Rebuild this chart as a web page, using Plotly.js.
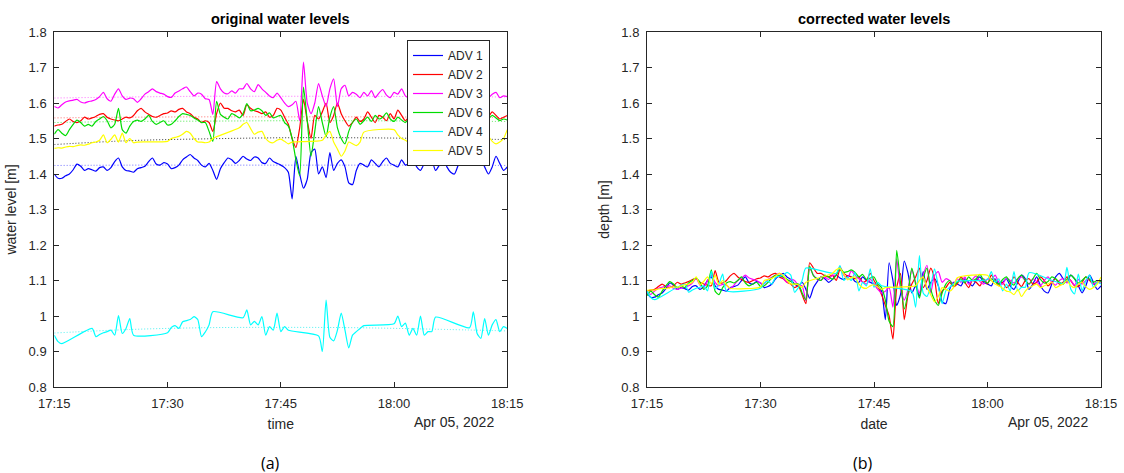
<!DOCTYPE html>
<html>
<head>
<meta charset="utf-8">
<script src="https://cdn.plot.ly/plotly-3.0.1.min.js"></script>
<style>html,body{margin:0;padding:0;background:#fff;}#chart{width:1124px;height:473px;}</style>
</head>
<body>
<div id="chart"></div>
<script>
// ---------- DATA (30-second samples, 17:15:00 - 18:15:00, 5 April 2022) ----------
const DATE = '2022-04-05';
const START_TIME = '17:15:00';
const SAMPLE_SECONDS = 30;
const SAMPLE_COUNT = 121;

const TICK_VALUES = ['2022-04-05 17:15', '2022-04-05 17:30', '2022-04-05 17:45', '2022-04-05 18:00', '2022-04-05 18:15'];
const TICK_LABELS = ['17:15', '17:30', '17:45', '18:00', '18:15'];
const DATE_LABEL = 'Apr 05, 2022';

const SERIES_NAMES = ['ADV 1', 'ADV 2', 'ADV 3', 'ADV 6', 'ADV 4', 'ADV 5'];

// original water levels [m]
const adv1_original = [
  1.400,1.388,1.388,1.395,1.400,1.412,1.428,1.422,1.410,1.415,
  1.412,1.408,1.418,1.420,1.410,1.418,1.435,1.445,1.420,1.410,
  1.408,1.405,1.415,1.418,1.422,1.435,1.445,1.428,1.425,1.432,
  1.428,1.415,1.418,1.425,1.440,1.448,1.455,1.445,1.438,1.425,
  1.420,1.430,1.410,1.385,1.415,1.432,1.445,1.440,1.430,1.438,
  1.450,1.442,1.438,1.448,1.445,1.432,1.430,1.445,1.435,1.430,
  1.425,1.418,1.405,1.330,1.450,1.400,1.360,1.385,1.460,1.470,
  1.400,1.420,1.390,1.460,1.410,1.430,1.440,1.420,1.375,1.370,
  1.410,1.430,1.425,1.420,1.440,1.430,1.420,1.435,1.445,1.430,
  1.425,1.420,1.440,1.425,1.430,1.440,1.420,1.410,1.430,1.450,
  1.440,1.410,1.425,1.445,1.420,1.405,1.400,1.425,1.445,1.455,
  1.440,1.430,1.450,1.440,1.420,1.400,1.420,1.450,1.430,1.410,
  1.420];
const adv2_original = [
  1.535,1.538,1.540,1.548,1.555,1.548,1.545,1.550,1.560,1.555,
  1.558,1.562,1.568,1.570,1.560,1.555,1.552,1.550,1.555,1.560,
  1.558,1.565,1.578,1.585,1.575,1.568,1.562,1.560,1.565,1.570,
  1.572,1.578,1.575,1.582,1.585,1.575,1.570,1.560,1.555,1.545,
  1.550,1.545,1.520,1.570,1.600,1.585,1.585,1.578,1.575,1.580,
  1.565,1.595,1.585,1.578,1.575,1.570,1.575,1.560,1.565,1.585,
  1.580,1.560,1.540,1.500,1.475,1.530,1.610,1.550,1.500,1.565,
  1.555,1.575,1.600,1.545,1.565,1.600,1.570,1.550,1.535,1.545,
  1.560,1.548,1.555,1.575,1.560,1.545,1.565,1.560,1.550,1.570,
  1.555,1.580,1.565,1.550,1.560,1.545,1.555,1.575,1.560,1.548,
  1.565,1.570,1.555,1.560,1.575,1.565,1.550,1.560,1.570,1.555,
  1.560,1.575,1.565,1.550,1.548,1.560,1.575,1.565,1.555,1.560,
  1.565];
const adv3_original = [
  1.590,1.586,1.595,1.603,1.606,1.608,1.610,1.603,1.600,1.604,
  1.606,1.610,1.618,1.630,1.612,1.605,1.625,1.640,1.620,1.610,
  1.614,1.612,1.602,1.612,1.625,1.632,1.640,1.632,1.628,1.625,
  1.618,1.616,1.628,1.634,1.640,1.645,1.632,1.620,1.628,1.625,
  1.612,1.610,1.568,1.660,1.640,1.628,1.626,1.634,1.628,1.640,
  1.640,1.655,1.640,1.632,1.652,1.640,1.630,1.620,1.615,1.628,
  1.615,1.600,1.590,1.595,1.605,1.550,1.715,1.600,1.570,1.600,
  1.655,1.620,1.590,1.640,1.668,1.590,1.640,1.650,1.620,1.630,
  1.625,1.615,1.630,1.620,1.635,1.615,1.628,1.638,1.622,1.615,
  1.630,1.625,1.640,1.620,1.615,1.632,1.625,1.618,1.628,1.635,
  1.625,1.615,1.630,1.622,1.610,1.625,1.635,1.620,1.612,1.625,
  1.630,1.618,1.625,1.612,1.628,1.615,1.625,1.630,1.615,1.620,
  1.618];
const adv6_original = [
  1.512,1.525,1.515,1.508,1.525,1.540,1.552,1.545,1.535,1.540,
  1.535,1.548,1.555,1.562,1.550,1.530,1.540,1.585,1.525,1.515,
  1.535,1.548,1.552,1.548,1.555,1.565,1.548,1.540,1.545,1.550,
  1.538,1.540,1.550,1.562,1.570,1.568,1.565,1.558,1.552,1.545,
  1.545,1.520,1.492,1.605,1.568,1.560,1.555,1.570,1.565,1.558,
  1.570,1.598,1.578,1.580,1.585,1.578,1.565,1.572,1.558,1.562,
  1.565,1.545,1.535,1.500,1.440,1.395,1.645,1.550,1.450,1.520,
  1.590,1.545,1.505,1.560,1.590,1.530,1.500,1.485,1.520,1.545,
  1.555,1.540,1.550,1.560,1.548,1.565,1.555,1.560,1.572,1.555,
  1.548,1.560,1.552,1.545,1.558,1.565,1.550,1.542,1.560,1.570,
  1.555,1.545,1.560,1.575,1.558,1.548,1.552,1.565,1.560,1.550,
  1.545,1.558,1.570,1.560,1.548,1.555,1.565,1.558,1.550,1.555,
  1.552];
const adv4_original = [
  0.946,0.928,0.922,null,null,null,null,null,null,null,
  0.965,0.942,0.948,0.953,0.956,0.960,0.946,1.001,0.951,0.965,
  0.993,0.946,null,null,null,null,null,null,null,null,
  0.953,0.968,0.973,0.965,0.984,0.987,0.990,0.998,0.990,0.942,
  0.955,0.975,1.012,null,null,null,null,null,null,null,
  0.995,1.017,0.975,0.985,0.975,0.998,0.946,0.970,0.960,1.008,
  0.956,0.970,0.960,null,null,null,null,null,null,null,
  0.944,0.900,1.045,0.940,0.930,0.960,1.008,0.960,0.910,0.946,
  0.956,0.965,0.973,null,null,null,null,null,null,null,
  0.978,1.000,0.970,0.980,0.946,0.965,0.946,1.000,0.946,0.956,
  0.956,0.997,null,null,null,null,null,null,null,null,
  0.967,1.012,0.951,0.937,0.993,0.946,0.975,0.990,0.956,0.970,
  0.965];
const adv5_original = [
  1.472,1.474,1.473,1.476,1.478,1.477,1.480,1.482,1.481,1.484,
  1.488,1.490,1.495,1.510,1.488,1.498,1.510,1.490,1.515,1.488,
  1.500,1.488,1.490,null,null,null,null,null,null,null,
  1.492,1.500,1.503,1.506,1.512,1.520,1.515,1.500,1.490,1.490,
  1.488,1.490,1.500,null,null,null,null,null,null,1.530,
  1.540,1.545,1.528,1.512,1.518,1.520,1.500,1.490,1.488,1.495,
  1.498,1.492,1.485,1.490,null,null,null,null,null,null,
  null,1.495,1.510,1.520,1.490,1.470,1.450,1.465,1.490,1.485,
  1.480,1.490,1.518,null,null,null,null,null,null,null,
  1.525,1.510,1.500,1.495,1.488,1.480,1.478,1.470,1.485,1.465,
  1.480,1.490,1.495,1.500,1.490,1.495,1.500,1.505,1.490,1.495,
  1.500,1.510,1.495,1.490,1.500,1.505,1.492,1.485,1.490,1.500,
  1.525];

// trend lines (dotted) sampled every 10 minutes
const TREND_TIMES = ['2022-04-05 17:15','2022-04-05 17:25','2022-04-05 17:35','2022-04-05 17:45','2022-04-05 17:55','2022-04-05 18:05','2022-04-05 18:15'];
const adv1_trend = [1.424,1.425,1.425,1.425,1.425,1.425,1.424];
const adv2_trend = [1.558,1.560,1.561,1.561,1.561,1.560,1.559];
const adv3_trend = [1.614,1.617,1.619,1.619,1.619,1.618,1.617];
const adv6_trend = [1.545,1.548,1.549,1.550,1.550,1.549,1.548];
const adv4_trend = [0.952,0.962,0.967,0.968,0.967,0.963,0.958];
const adv5_trend = [1.483,1.494,1.499,1.502,1.502,1.500,1.497];

// corrected water levels (depth) [m]
const adv1_corrected = [
  1.065,1.053,1.053,1.060,1.065,1.077,1.093,1.087,1.075,1.080,
  1.077,1.073,1.083,1.085,1.075,1.083,1.100,1.110,1.085,1.075,
  1.073,1.070,1.080,1.083,1.087,1.100,1.110,1.093,1.090,1.097,
  1.093,1.080,1.083,1.090,1.105,1.113,1.120,1.110,1.103,1.090,
  1.085,1.095,1.075,1.050,1.080,1.097,1.110,1.105,1.095,1.103,
  1.115,1.107,1.103,1.113,1.110,1.097,1.095,1.110,1.100,1.095,
  1.090,1.083,1.070,0.990,1.150,1.100,1.030,1.060,1.155,1.120,
  1.065,1.085,1.055,1.125,1.075,1.095,1.105,1.085,1.040,1.035,
  1.075,1.095,1.090,1.085,1.105,1.095,1.085,1.100,1.110,1.095,
  1.090,1.085,1.105,1.090,1.095,1.105,1.085,1.075,1.095,1.115,
  1.105,1.075,1.090,1.110,1.085,1.070,1.065,1.090,1.110,1.120,
  1.105,1.095,1.115,1.105,1.085,1.065,1.085,1.115,1.095,1.075,
  1.085];
const adv2_corrected = [
  1.070,1.073,1.075,1.083,1.090,1.083,1.080,1.085,1.095,1.090,
  1.093,1.097,1.103,1.105,1.095,1.090,1.087,1.085,1.128,1.095,
  1.093,1.100,1.113,1.120,1.110,1.103,1.097,1.095,1.100,1.105,
  1.107,1.113,1.110,1.117,1.120,1.110,1.105,1.095,1.090,1.080,
  1.085,1.060,1.035,1.150,1.135,1.120,1.120,1.113,1.110,1.115,
  1.100,1.130,1.120,1.113,1.110,1.105,1.110,1.095,1.100,1.120,
  1.100,1.083,1.060,1.030,1.000,0.935,1.080,1.120,0.990,1.060,
  1.090,1.110,1.135,1.080,1.100,1.135,1.105,1.035,1.070,1.080,
  1.095,1.083,1.090,1.110,1.095,1.080,1.100,1.095,1.085,1.105,
  1.090,1.115,1.100,1.085,1.095,1.080,1.090,1.110,1.095,1.083,
  1.100,1.105,1.090,1.095,1.110,1.100,1.085,1.095,1.105,1.090,
  1.095,1.110,1.100,1.085,1.083,1.095,1.110,1.100,1.090,1.095,
  1.100];
const adv3_corrected = [
  1.065,1.061,1.070,1.078,1.081,1.083,1.085,1.078,1.075,1.079,
  1.081,1.085,1.093,1.105,1.087,1.080,1.100,1.115,1.095,1.085,
  1.089,1.087,1.077,1.087,1.100,1.107,1.115,1.107,1.103,1.100,
  1.093,1.091,1.103,1.109,1.115,1.120,1.107,1.095,1.103,1.100,
  1.087,1.085,1.043,1.135,1.115,1.103,1.101,1.109,1.103,1.115,
  1.115,1.140,1.115,1.107,1.127,1.115,1.105,1.095,1.090,1.103,
  1.090,1.075,1.065,1.070,1.080,1.025,1.160,1.075,1.045,1.075,
  1.130,1.095,1.065,1.115,1.143,1.065,1.115,1.125,1.095,1.105,
  1.100,1.090,1.105,1.095,1.110,1.090,1.103,1.113,1.097,1.090,
  1.105,1.100,1.115,1.095,1.090,1.107,1.100,1.093,1.103,1.110,
  1.100,1.090,1.105,1.097,1.085,1.100,1.110,1.095,1.087,1.100,
  1.105,1.093,1.100,1.087,1.103,1.090,1.100,1.105,1.090,1.095,
  1.093];
const adv6_corrected = [
  1.057,1.070,1.060,1.053,1.070,1.085,1.097,1.090,1.080,1.085,
  1.080,1.093,1.100,1.107,1.095,1.075,1.085,1.130,1.070,1.060,
  1.080,1.093,1.097,1.093,1.100,1.110,1.093,1.085,1.090,1.095,
  1.083,1.085,1.095,1.107,1.115,1.113,1.110,1.103,1.097,1.090,
  1.090,1.065,1.045,1.140,1.113,1.105,1.100,1.115,1.110,1.103,
  1.115,1.135,1.123,1.125,1.130,1.123,1.110,1.117,1.103,1.107,
  1.110,1.090,1.080,1.045,0.985,0.970,1.185,1.095,1.020,1.065,
  1.135,1.090,1.050,1.105,1.135,1.075,1.045,1.030,1.065,1.090,
  1.100,1.085,1.095,1.105,1.093,1.110,1.100,1.105,1.117,1.100,
  1.093,1.105,1.097,1.090,1.103,1.110,1.095,1.087,1.105,1.115,
  1.100,1.090,1.105,1.120,1.103,1.093,1.097,1.110,1.105,1.095,
  1.090,1.103,1.115,1.105,1.093,1.100,1.110,1.103,1.095,1.100,
  1.097];
const adv4_corrected = [
  1.070,1.052,1.046,null,null,null,null,null,null,null,
  1.090,1.067,1.073,1.078,1.081,1.085,1.071,1.126,1.076,1.090,
  1.118,1.071,null,null,null,null,null,null,null,null,
  1.078,1.093,1.098,1.090,1.109,1.112,1.115,1.123,1.115,1.067,
  1.080,1.100,1.135,null,null,null,null,null,null,null,
  1.120,1.142,1.100,1.110,1.100,1.123,1.071,1.095,1.085,1.133,
  1.081,1.095,1.085,null,null,null,null,null,null,null,
  1.069,1.025,1.170,1.065,1.055,1.085,1.133,1.085,1.035,1.071,
  1.081,1.090,1.098,null,null,null,null,null,null,null,
  1.103,1.125,1.095,1.105,1.071,1.090,1.071,1.125,1.071,1.081,
  1.081,1.122,null,null,null,null,null,null,null,null,
  1.092,1.137,1.076,1.062,1.118,1.071,1.100,1.115,1.081,1.095,
  1.090];
const adv5_corrected = [
  1.072,1.074,1.073,1.076,1.078,1.077,1.080,1.082,1.081,1.084,
  1.088,1.090,1.095,1.110,1.088,1.098,1.110,1.090,1.115,1.088,
  1.100,1.088,1.078,null,null,null,null,null,null,null,
  1.082,1.100,1.103,1.106,1.112,1.120,1.115,1.100,1.090,1.090,
  1.088,1.080,1.095,null,null,null,null,null,null,1.120,
  1.130,1.135,1.118,1.102,1.108,1.110,1.090,1.080,1.078,1.085,
  1.088,1.082,1.075,1.080,null,null,null,null,null,null,
  null,1.085,1.100,1.110,1.080,1.060,1.040,1.055,1.080,1.075,
  1.070,1.080,1.108,null,null,null,null,null,null,null,
  1.115,1.100,1.090,1.085,1.078,1.070,1.068,1.060,1.075,1.055,
  1.070,1.080,1.085,1.090,1.080,1.085,1.090,1.095,1.080,1.085,
  1.090,1.100,1.085,1.080,1.090,1.095,1.082,1.075,1.080,1.090,
  1.110];

// ---------- BUILD ----------
function pad(n){ return (n < 10 ? '0' : '') + n; }
function sampleTimes(){
  const parts = START_TIME.split(':').map(Number);
  const base = parts[0]*3600 + parts[1]*60 + parts[2];
  const out = [];
  for (let k = 0; k < SAMPLE_COUNT; k++) {
    const s = base + k*SAMPLE_SECONDS;
    out.push(DATE + ' ' + pad(Math.floor(s/3600)) + ':' + pad(Math.floor(s/60)%60) + ':' + pad(s%60));
  }
  return out;
}
const TIMES = sampleTimes();

const COLORS = ['#0000ff', '#ff0000', '#ff00ff', '#00dd00', '#00ffff', '#ffff00'];
const TREND_COLORS = ['#6a6aff', '#ff6a6a', '#ff6aff', '#4ce64c', '#4cf0f0', '#333333'];
const original = [adv1_original, adv2_original, adv3_original, adv6_original, adv4_original, adv5_original];
const trends = [adv1_trend, adv2_trend, adv3_trend, adv6_trend, adv4_trend, adv5_trend];
const corrected = [adv1_corrected, adv2_corrected, adv3_corrected, adv6_corrected, adv4_corrected, adv5_corrected];

const LINE_W = 1.2;
const traces = [];
trends.forEach((tr, i) => traces.push({
  x: TREND_TIMES, y: tr, type: 'scatter', mode: 'lines', xaxis: 'x', yaxis: 'y',
  line: {color: TREND_COLORS[i], width: 1, dash: '1px,2px', shape: 'spline'},
  showlegend: false, hoverinfo: 'skip'
}));
original.forEach((ys, i) => traces.push({
  x: TIMES, y: ys, type: 'scatter', mode: 'lines', name: SERIES_NAMES[i], xaxis: 'x', yaxis: 'y',
  connectgaps: true, line: {color: COLORS[i], width: LINE_W, shape: 'spline', smoothing: 0.6}, showlegend: true
}));
corrected.forEach((ys, i) => traces.push({
  x: TIMES, y: ys, type: 'scatter', mode: 'lines', name: SERIES_NAMES[i], xaxis: 'x2', yaxis: 'y2',
  connectgaps: true, line: {color: COLORS[i], width: LINE_W, shape: 'spline', smoothing: 0.6}, showlegend: false
}));

const AX = '#262626';
function xAxis(domain, anchor, title){
  return {
    domain: domain, anchor: anchor, type: 'date',
    range: [TICK_VALUES[0], TICK_VALUES[TICK_VALUES.length-1]],
    tickmode: 'array', tickvals: TICK_VALUES, ticktext: TICK_LABELS,
    ticks: 'inside', ticklen: 5, tickcolor: AX, tickwidth: 1,
    showline: true, linecolor: AX, linewidth: 1, mirror: 'ticks',
    showgrid: false, zeroline: false, ticklabelstandoff: 4,
    tickfont: {size: 13, color: AX},
    title: {text: title, font: {size: 14, color: AX}, standoff: 9}
  };
}
function yAxis(domain, anchor, title){
  return {
    domain: domain, anchor: anchor,
    range: [0.8, 1.8], tick0: 0.8, dtick: 0.1,
    ticks: 'inside', ticklen: 5, tickcolor: AX, tickwidth: 1,
    showline: true, linecolor: AX, linewidth: 1, mirror: 'ticks',
    showgrid: false, zeroline: false, ticklabelstandoff: 4,
    tickfont: {size: 13, color: AX},
    title: {text: title, font: {size: 14, color: AX}, standoff: 8}
  };
}

const W = 1124, H = 473;
const yDom = [1 - 387/H, 1 - 32/H];
const x1Dom = [54.3/W, 507.3/W];
const x2Dom = [647/W, 1101/W];

const layout = {
  width: W, height: H,
  margin: {l: 0, r: 0, t: 0, b: 0},
  paper_bgcolor: '#ffffff', plot_bgcolor: '#ffffff',
  font: {family: '"Liberation Sans", Arial, Helvetica, sans-serif', size: 13, color: AX},
  showlegend: true,
  legend: {
    x: 407/W, y: 1 - 40/H, xanchor: 'left', yanchor: 'top',
    bgcolor: '#ffffff', bordercolor: AX, borderwidth: 1,
    font: {size: 12, color: AX}, tracegroupgap: 0
  },
  xaxis: xAxis(x1Dom, 'y', 'time'),
  yaxis: yAxis(yDom, 'x', 'water level [m]'),
  xaxis2: xAxis(x2Dom, 'y2', 'date'),
  yaxis2: yAxis(yDom, 'x2', 'depth [m]'),
  annotations: [
    {text: '<b>original water levels</b>', xref: 'paper', yref: 'paper', x: (x1Dom[0]+x1Dom[1])/2, y: 1 - 19/H,
     xanchor: 'center', yanchor: 'middle', showarrow: false, font: {size: 14.5, color: '#000'}},
    {text: '<b>corrected water levels</b>', xref: 'paper', yref: 'paper', x: (x2Dom[0]+x2Dom[1])/2, y: 1 - 19/H,
     xanchor: 'center', yanchor: 'middle', showarrow: false, font: {size: 14.5, color: '#000'}},
    {text: DATE_LABEL, xref: 'paper', yref: 'paper', x: (507.3-11)/W, y: 1 - 422/H,
     xanchor: 'right', yanchor: 'middle', showarrow: false, font: {size: 14, color: AX}},
    {text: DATE_LABEL, xref: 'paper', yref: 'paper', x: (1101-11)/W, y: 1 - 422/H,
     xanchor: 'right', yanchor: 'middle', showarrow: false, font: {size: 14, color: AX}},
    {text: '(a)', xref: 'paper', yref: 'paper', x: 270/W, y: 1 - 463/H,
     xanchor: 'center', yanchor: 'middle', showarrow: false, font: {family: '"Open Sans", "Noto Sans", sans-serif', size: 16, color: '#000'}},
    {text: '(b)', xref: 'paper', yref: 'paper', x: 863/W, y: 1 - 463/H,
     xanchor: 'center', yanchor: 'middle', showarrow: false, font: {family: '"Open Sans", "Noto Sans", sans-serif', size: 16, color: '#000'}}
  ]
};

Plotly.newPlot('chart', traces, layout, {displayModeBar: false, staticPlot: true});
</script>
</body>
</html>
